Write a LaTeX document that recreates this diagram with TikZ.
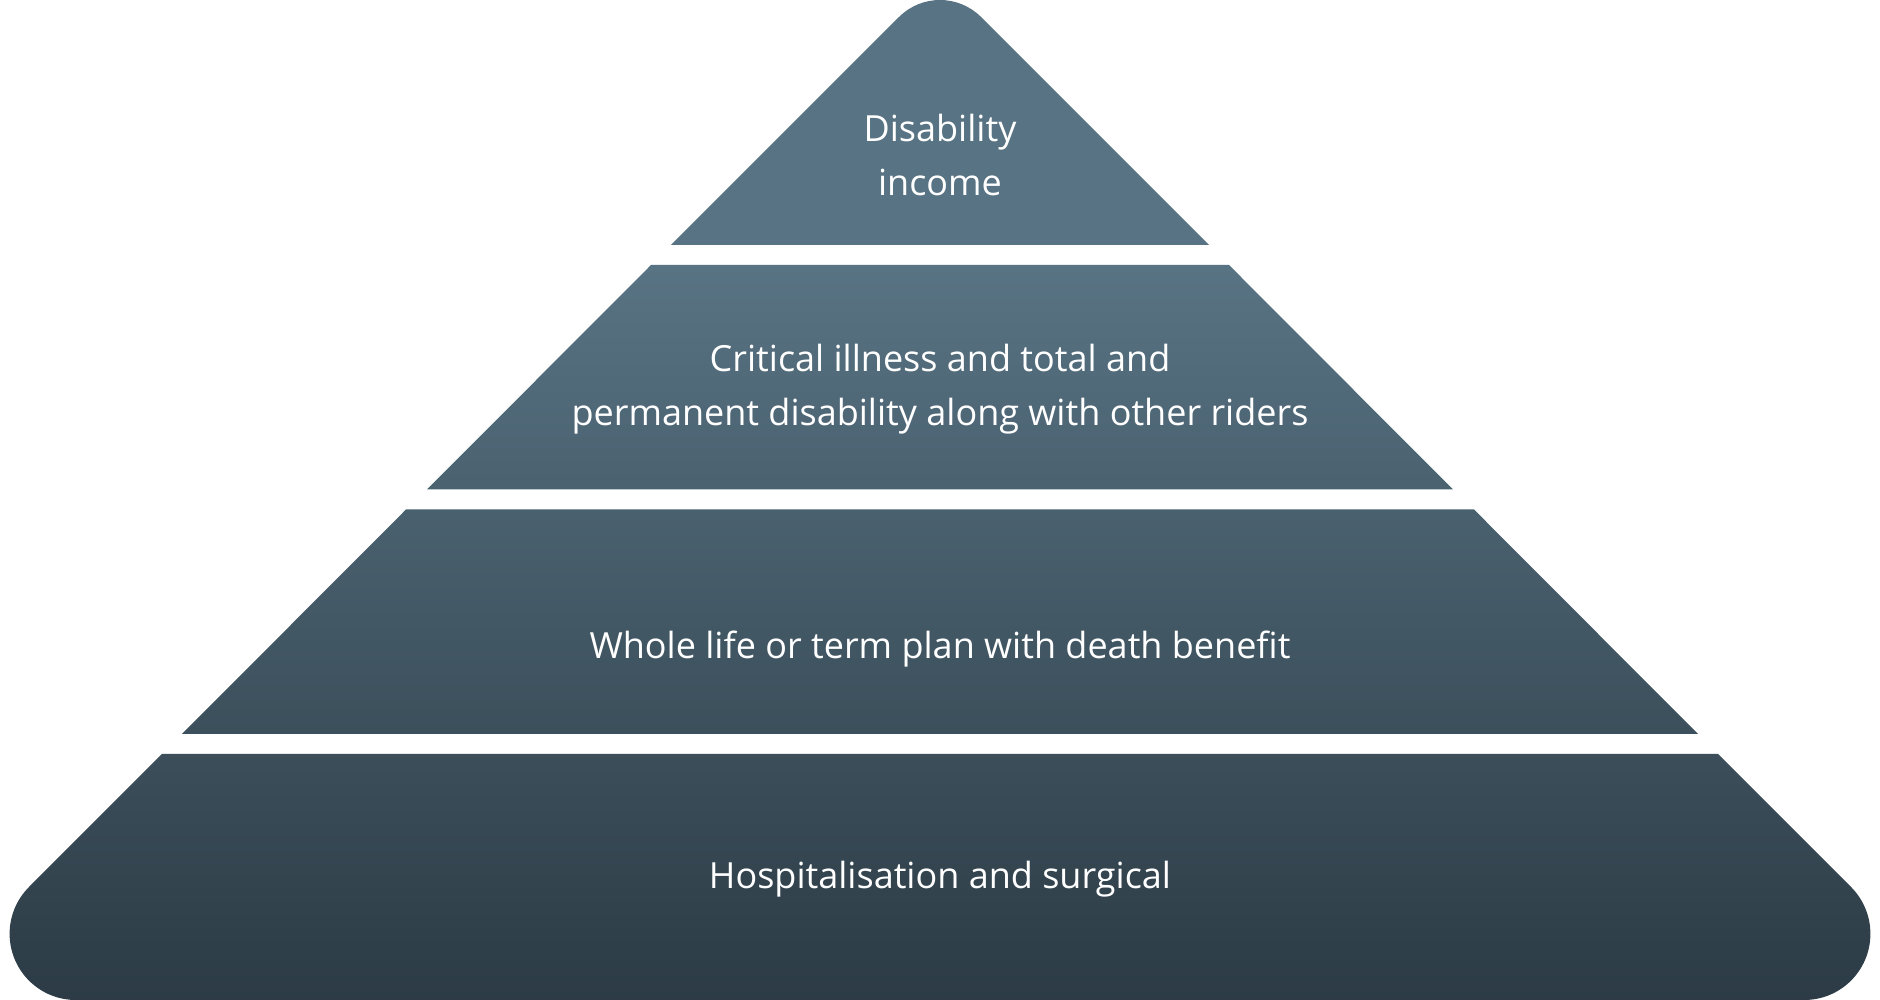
\documentclass[tikz,border=0pt]{standalone}
\usepackage{fontspec}
\setmainfont{Open Sans}
\definecolor{pyrlight}{RGB}{88,115,131}
\definecolor{pyrdark}{RGB}{44,59,69}
\pgfdeclareverticalshading{pyrshade}{100bp}{color(0bp)=(pyrdark); color(25bp)=(pyrdark); color(61.75bp)=(pyrlight); color(100bp)=(pyrlight)}
\tikzset{
  tiertext/.style={text=white, align=center, font=\fontsize{36}{54}\selectfont, inner sep=0pt}
}
\begin{document}
\begin{tikzpicture}[x=1pt,y=1pt]
\useasboundingbox (0,0) rectangle (1880,1000);
\begin{scope}
  \clip
    % tier 1 (apex)
    (671,755) -- (899,983) arc (135:45:58) -- (1209,755) -- cycle
    % tier 2
    (651,735) -- (1229,735) -- (1453,510.5) -- (427,510.5) -- cycle
    % tier 3
    (406,490.5) -- (1474,490.5) -- (1698,266) -- (182,266) -- cycle
    % tier 4
    (162,246) -- (29,113) arc (135:270:66.2) -- (1804.2,0) arc (270:405:66.2) -- (1718,246) -- cycle;
  \shade[shading=pyrshade] (0,0) rectangle (1880,1000);
\end{scope}
\node[tiertext] (t1) at (940,844.5) {Disability\\income};
\node[tiertext] (t2) at (940,610.5) {Critical illness and total and\\permanent disability along with other riders};
\node[tiertext] (t3) at (940,351) {Whole life or term plan with death benefit};
\node[tiertext] (t4) at (940,121) {Hospitalisation and surgical};
\end{tikzpicture}
\end{document}
